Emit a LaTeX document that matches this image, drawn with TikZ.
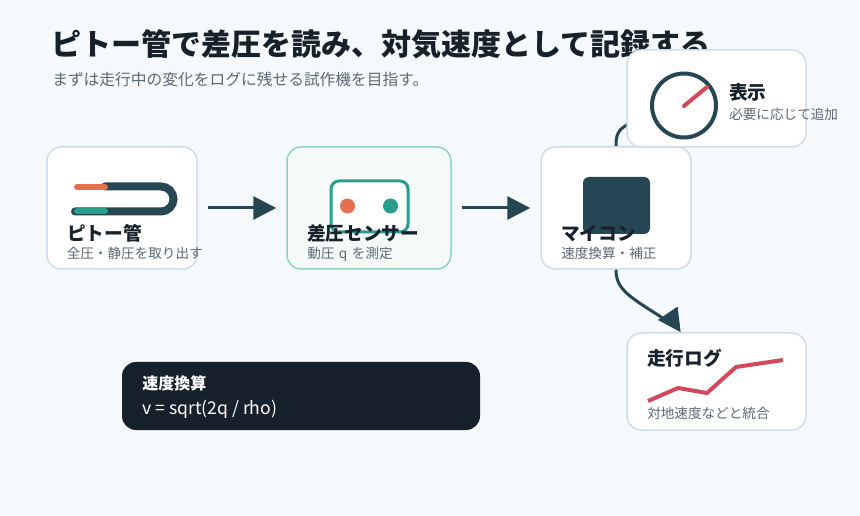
\documentclass[tikz,border=0pt]{standalone}
\usepackage{fontspec}
\setmainfont{Noto Sans CJK JP}
\usetikzlibrary{arrows.meta}

\pgfdeclarelayer{under}
\pgfsetlayers{under,main}

\def\px{.75pt}
\definecolor{pagebg}{HTML}{F5F9FC}
\definecolor{cardline}{HTML}{CFDDE8}
\definecolor{ink}{HTML}{17212B}
\definecolor{subink}{HTML}{5B6875}
\definecolor{navy}{HTML}{264653}
\definecolor{teal}{HTML}{2A9D8F}
\definecolor{coral}{HTML}{E76F51}
\definecolor{rose}{HTML}{D1495B}
\definecolor{tealline}{HTML}{8FD3C4}
\definecolor{tealfill}{HTML}{F3FAF8}

\tikzset{
  card/.style={draw=cardline, fill=white, line width=1.5*\px, rounded corners=14*\px, inner sep=0pt},
  sensorcard/.style={card, draw=tealline, fill=tealfill},
  cardtitle/.style={anchor=base west, inner sep=0pt, text=ink, font=\fontsize{14pt}{16pt}\selectfont\bfseries},
  cardsub/.style={anchor=base west, inner sep=0pt, text=subink, font=\fontsize{10.2pt}{13pt}\selectfont},
  flow/.style={draw=navy, line width=3*\px, line join=round, -{Triangle[length=23*\px, width=23*\px]}},
  flowline/.style={draw=navy, line width=3*\px},
  trace/.style={draw=rose, line width=4*\px}
}

\begin{document}
\begin{tikzpicture}[x=.75pt, y=-.75pt]

\begin{pgfonlayer}{under}
\fill[pagebg, use as bounding box] (0,0) rectangle (860,516);
\end{pgfonlayer}

\node[anchor=base west, inner sep=0pt, text=ink, font=\fontsize{22.5pt}{27pt}\selectfont\bfseries] (title) at (51,56) {ピトー管で差圧を読み、対気速度として記録する};
\node[anchor=base west, inner sep=0pt, text=subink, font=\fontsize{11.8pt}{14pt}\selectfont] (subtitle) at (52,85.5) {まずは走行中の変化をログに残せる試作機を目指す。};

\node[card, minimum width=150*\px, minimum height=122*\px] (pitot) at (122,208) {};
\node[sensorcard, minimum width=164*\px, minimum height=122*\px] (sensor) at (369,208) {};
\node[card, minimum width=150*\px, minimum height=122*\px] (mcu) at (616,208) {};
\node[card, minimum width=179*\px, minimum height=97*\px] (display) at (716.5,98.5) {};
\node[card, minimum width=179*\px, minimum height=97*\px] (log) at (716.5,381.5) {};
\node[card, draw=none, fill=ink, minimum width=358*\px, minimum height=68*\px] (formula) at (301,396) {};

\begin{pgfonlayer}{under}
\draw[flowline] (mcu.north) .. controls (616,125) and (620,122) .. (display.center);
\end{pgfonlayer}
\draw[flow, shorten <=10*\px, shorten >=10*\px] (pitot)--(sensor);
\draw[flow, shorten <=10*\px, shorten >=10*\px] (sensor)--(mcu);
\draw[flow] (mcu.south) .. controls (616,290) and (630,297) .. (665,319.5) -- (671,318) -- (log.126.2);

\draw[navy, line width=8*\px, line cap=round] (75,211.5)--(161,211.5) arc (90:-90:12.5) -- (105,186.5);
\draw[coral, line width=6*\px, line cap=round] (77,187)--(105,187);
\draw[teal, line width=6*\px, line cap=round] (77,211)--(105,211);

\draw[teal, fill=white, line width=3*\px, rounded corners=8*\px] (331,181) rectangle (408,232);
\fill[coral] (347.5,206) circle (7.5);
\fill[teal] (390.5,206) circle (7.5);

\fill[navy, rounded corners=6*\px] (583,177) rectangle (650,234);

\draw[navy, line width=4*\px] (684,105.5) circle (32);
\draw[rose, line width=4*\px, line cap=round] (684,106)--(707,87);

\draw[trace] (648,401)--(678,388)--(707,393)--(736,367)--(783,360);

\node[cardtitle] (pitotname) at (67,240.5) {ピトー管};
\node[cardsub] (pitotnote) at (66.5,258.5) {全圧・静圧を取り出す};
\node[cardtitle] (sensorname) at (307,240.5) {差圧センサー};
\node[cardsub] (sensornote) at (307,258.5) {動圧\hspace{1.1pt} q \hspace{1.1pt}を測定};
\node[cardtitle] (mcuname) at (561,240.5) {マイコン};
\node[cardsub] (mcunote) at (561,258.5) {速度換算・補正};
\node[cardtitle] (displayname) at (729,100) {表示};
\node[cardsub] (displaynote) at (729,119.5) {必要に応じて追加};
\node[cardtitle] (logname) at (647,366) {走行ログ};
\node[cardsub] (lognote) at (647,418.5) {対地速度などと統合};

\node[anchor=base west, inner sep=0pt, text=white, font=\fontsize{12pt}{14pt}\selectfont\bfseries] (formulaname) at (142,389) {速度換算};
\node[anchor=base west, inner sep=0pt, text=white, font=\fontsize{13.2pt}{16pt}\selectfont] (formulatext) at (142,414) {v = sqrt(2q / rho)};

\end{tikzpicture}
\end{document}
